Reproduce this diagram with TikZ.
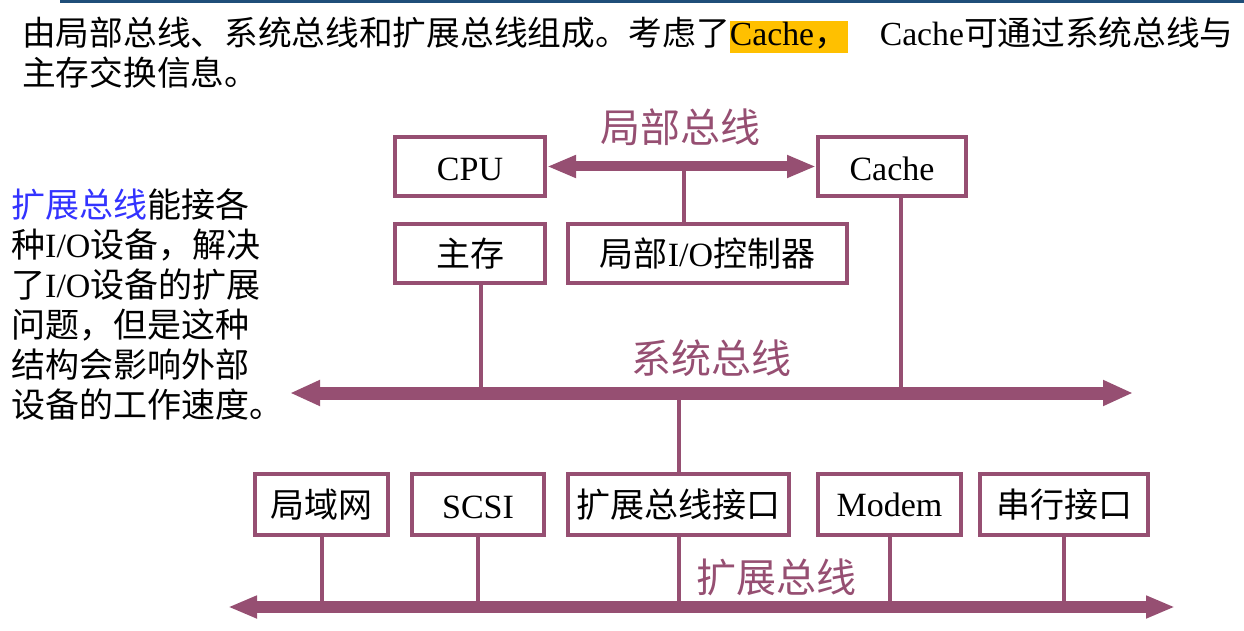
\documentclass[tikz,border=0pt]{standalone}
\usepackage{fontspec}
\setmainfont{Liberation Serif}
\newfontfamily\cjk{Noto Sans CJK SC}
\newcommand{\zh}[1]{{\cjk #1}}
\usepackage{tikz}
\usetikzlibrary{arrows.meta,positioning}
\usepackage{xcolor}
\definecolor{buspurple}{HTML}{964F72}
\definecolor{hlorange}{HTML}{FFC000}
\definecolor{noteblue}{HTML}{3333FF}
\definecolor{rulenavy}{HTML}{1F4E79}
\setlength{\fboxsep}{0pt}

\begin{document}
\begin{tikzpicture}[
  x=1pt, y=-1pt,
  box/.style={draw=buspurple, line width=4pt, inner sep=0pt, minimum height=59pt, font=\fontsize{34}{40}\selectfont},
  lowbox/.style={box, minimum height=61pt},
  latin/.style={text height=28pt, text depth=0pt},
  stem/.style={draw=buspurple, line width=4pt},
  localbus/.style={draw=buspurple, line width=10pt, {Triangle[length=29pt,width=21pt]}-{Triangle[length=29pt,width=21pt]}},
  sysbus/.style={draw=buspurple, line width=13pt, {Triangle[length=30pt,width=24pt]}-{Triangle[length=30pt,width=24pt]}},
  expbus/.style={draw=buspurple, line width=12pt, {Triangle[length=29pt,width=21pt]}-{Triangle[length=29pt,width=21pt]}},
  buslabel/.style={text=buspurple, inner sep=0pt, font=\fontsize{40}{44}\selectfont\cjk},
  prose/.style={anchor=west, align=left, inner sep=0pt},
]
  \useasboundingbox (0,0) rectangle (1244,631);

  % Heading text
  \draw[rulenavy, line width=3pt] (60,2) -- (1244,2);
  \node[prose, font=\fontsize{33.7}{40}\selectfont] (intro) at (22,53)
    {\zh{由局部总线、系统总线和扩展总线组成。考虑了}\colorbox{hlorange}{\rule[-7pt]{0pt}{32pt}Cache\zh{，}}\hspace*{32pt}Cache\zh{可通过系统总线与}\\
     \zh{主存交换信息。}};

  % Side note
  \node[prose, font=\fontsize{34}{40}\selectfont] (note) at (11,304)
    {\textcolor{noteblue}{\zh{扩展总线}}\zh{能接各}\\
     \zh{种}I/O\zh{设备，解决}\\
     \zh{了}I/O\zh{设备的扩展}\\
     \zh{问题，但是这种}\\
     \zh{结构会影响外部}\\
     \zh{设备的工作速度。}};

  % Local bus level
  \node[box, latin, minimum width=150pt] (cpu) at (470,166.5) {CPU};
  \node[box, latin, minimum width=148pt] (cache) at (892,166.5) {Cache};
  \node[box, minimum width=150pt, below=24pt of cpu] (mem) {\zh{主存}};
  \node[box, minimum width=279pt, right=19pt of mem] (lio) {\zh{局部}I/O\zh{控制器}};

  % Expansion level
  \node[lowbox, minimum width=133pt] (lan) at (321.5,504.5) {\zh{局域网}};
  \node[lowbox, latin, minimum width=132pt, right=20pt of lan] (scsi) {SCSI};
  \node[lowbox, minimum width=221pt, right=20pt of scsi] (ebi) {\zh{扩展总线接口}};
  \node[lowbox, minimum width=143pt, right=25pt of ebi] (modem) {Modem};
  \node[lowbox, minimum width=168pt, right=15pt of modem] (serial) {\zh{串行接口}};

  % Bus ends and taps
  \coordinate (ltap) at (684,162);
  \coordinate (sysL) at (290,393);
  \coordinate (sysR) at (1133,393);
  \coordinate (memtap) at (481,393);
  \coordinate (cachetap) at (901,393);
  \coordinate (expL) at (228,607);
  \coordinate (expR) at (1175,607);

  % Stems
  \draw[stem] (ltap) -- (ltap |- lio.north);
  \draw[stem] (memtap |- mem.south) -- (memtap);
  \draw[stem] (cachetap |- cache.south) -- (cachetap);
  \draw[stem] (ebi.north |- sysL) -- (ebi.north);
  \foreach \n in {lan,scsi,ebi,modem,serial}
    \draw[stem] (\n.south) -- (\n.south |- expL);

  % Buses
  \draw[localbus] (cpu) -- (cache);
  \draw[sysbus] (sysL) -- (sysR);
  \draw[expbus] (expL) -- (expR);

  \node[buslabel] (lbl) at (680,127) {局部总线};
  \node[buslabel] (sbl) at (711,358) {系统总线};
  \node[buslabel] (ebl) at (776,577) {扩展总线};
\end{tikzpicture}
\end{document}
